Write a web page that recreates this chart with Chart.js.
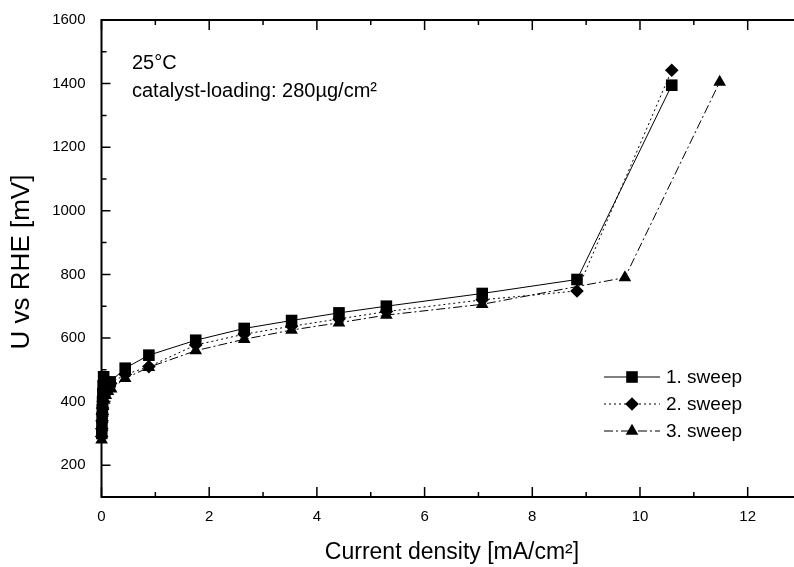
<!DOCTYPE html>
<html>
<head>
<meta charset="utf-8">
<script src="https://cdn.jsdelivr.net/npm/chart.js@4.4.1/dist/chart.umd.min.js"></script>
<style>
html,body{margin:0;padding:0;background:#fff;overflow:hidden;width:794px;height:567px;}
</style>
</head>
<body>
<canvas id="c" width="794" height="567"></canvas>
<script>
// ---- data (current density mA/cm², potential mV vs RHE) ----
const sweep1X = [0.005, 0.008, 0.012, 0.016, 0.02, 0.025, 0.03, 0.04, 0.16, 0.44, 0.88, 1.75, 2.65, 3.53, 4.41, 5.29, 7.07, 8.83, 10.59];
const sweep1Y = [300, 325, 350, 375, 400, 425, 450, 478, 462, 505, 546, 593, 630, 655, 679, 700, 740, 784, 1395];
const sweep2X = [0.003, 0.006, 0.01, 0.015, 0.02, 0.03, 0.05, 0.08, 0.12, 0.17, 0.44, 0.88, 1.75, 2.65, 3.53, 4.41, 5.29, 7.07, 8.83, 10.59];
const sweep2Y = [290, 315, 340, 360, 380, 400, 420, 438, 450, 458, 485, 510, 578, 612, 637, 660, 683, 720, 748, 1442];
const sweep3X = [0.002, 0.005, 0.01, 0.015, 0.02, 0.03, 0.05, 0.08, 0.12, 0.18, 0.44, 0.88, 1.75, 2.65, 3.53, 4.41, 5.29, 7.07, 9.72, 11.48];
const sweep3Y = [280, 300, 320, 345, 365, 385, 405, 420, 432, 440, 473, 508, 560, 596, 625, 648, 672, 706, 790, 1405];
const seriesNames = ['1. sweep', '2. sweep', '3. sweep'];
const xTickValues = [0, 1, 2, 3, 4, 5, 6, 7, 8, 9, 10, 11, 12];
const xTickLabels = [0, 2, 4, 6, 8, 10, 12];
const yTickLabels = [200, 400, 600, 800, 1000, 1200, 1400, 1600];
const annotationLines = ['25°C', 'catalyst-loading: 280µg/cm²'];
const xTitle = 'Current density [mA/cm²]';
const yTitle = 'U vs RHE [mV]';

const toPts = (xs, ys) => xs.map((x, i) => ({x: x, y: ys[i]}));
const FONT = '"Liberation Sans", Arial, sans-serif';

const styles = [
  {pointStyle: 'rect', pointRadius: 8.2, borderDash: []},
  {pointStyle: 'rectRot', pointRadius: 6.8, borderDash: [2, 3]},
  {pointStyle: 'triangle', pointRadius: 7.3, borderDash: [9, 3, 2, 3]}
];
const xs = [sweep1X, sweep2X, sweep3X], ys = [sweep1Y, sweep2Y, sweep3Y];

const datasets = seriesNames.map((n, i) => ({
  label: n,
  data: toPts(xs[i], ys[i]),
  showLine: true,
  clip: false,
  borderColor: '#000',
  backgroundColor: '#000',
  borderWidth: 1,
  borderDash: styles[i].borderDash,
  pointStyle: styles[i].pointStyle,
  pointRadius: styles[i].pointRadius,
  pointHoverRadius: styles[i].pointRadius,
  pointBorderWidth: 0,
  pointBackgroundColor: '#000',
  pointBorderColor: '#000',
  tension: 0
}));

function drawMarker(ctx, style, r, x, y) {
  ctx.beginPath();
  if (style === 'rect') {
    const s = Math.SQRT1_2 * r;
    ctx.rect(x - s, y - s, 2 * s, 2 * s);
  } else if (style === 'rectRot') {
    ctx.moveTo(x - r, y); ctx.lineTo(x, y - r); ctx.lineTo(x + r, y); ctx.lineTo(x, y + r); ctx.closePath();
  } else {
    let a = 0;
    ctx.moveTo(x + Math.sin(a) * r, y - Math.cos(a) * r);
    a += 2 * Math.PI / 3; ctx.lineTo(x + Math.sin(a) * r, y - Math.cos(a) * r);
    a += 2 * Math.PI / 3; ctx.lineTo(x + Math.sin(a) * r, y - Math.cos(a) * r);
    ctx.closePath();
  }
  ctx.fill();
}

const framePlugin = {
  id: 'frame',
  afterDraw(chart) {
    const ctx = chart.ctx, a = chart.chartArea;
    const sx = chart.scales.x, sy = chart.scales.y;
    ctx.save();
    ctx.strokeStyle = '#000';
    ctx.lineWidth = 2;
    ctx.setLineDash([]);
    ctx.beginPath();
    ctx.moveTo(a.left, a.top); ctx.lineTo(chart.width, a.top);
    ctx.moveTo(a.left, a.top - 1); ctx.lineTo(a.left, a.bottom);
    ctx.lineTo(chart.width, a.bottom);
    ctx.stroke();
    ctx.lineWidth = 1.5;
    ctx.beginPath();
    sx.ticks.forEach(t => {
      const px = sx.getPixelForValue(t.value);
      const major = xTickLabels.includes(t.value);
      const len = major ? 10 : 5;
      ctx.moveTo(px, a.bottom); ctx.lineTo(px, a.bottom - len);
      ctx.moveTo(px, a.top); ctx.lineTo(px, a.top + len);
    });
    sy.ticks.forEach(t => {
      const py = sy.getPixelForValue(t.value);
      const major = yTickLabels.includes(t.value);
      const len = major ? 9 : 5;
      ctx.moveTo(a.left, py); ctx.lineTo(a.left + len, py);
    });
    ctx.stroke();

    // annotation
    ctx.fillStyle = '#000';
    ctx.font = '20px ' + FONT;
    ctx.textAlign = 'left';
    ctx.textBaseline = 'middle';
    ctx.fillText(annotationLines[0], 132, 63);
    ctx.fillText(annotationLines[1], 132, 91);

    // legend
    const ly = [377, 404, 431];
    chart.data.datasets.forEach((ds, i) => {
      ctx.strokeStyle = '#000';
      ctx.lineWidth = 1;
      ctx.setLineDash(ds.borderDash);
      ctx.beginPath();
      ctx.moveTo(604, ly[i]); ctx.lineTo(660, ly[i]);
      ctx.stroke();
      ctx.setLineDash([]);
      drawMarker(ctx, ds.pointStyle, ds.pointRadius, 632, ly[i]);
      ctx.font = '19px ' + FONT;
      ctx.fillText(ds.label, 666, ly[i] + 1);
    });

    // axis titles
    ctx.textAlign = 'center';
    ctx.font = '23px ' + FONT;
    ctx.fillText(xTitle, 452, 553);
    ctx.save();
    ctx.translate(22, 262);
    ctx.rotate(-Math.PI / 2);
    ctx.font = '26px ' + FONT;
    ctx.fillText(yTitle, 0, 0);
    ctx.restore();
    ctx.restore();
  }
};

new Chart(document.getElementById('c'), {
  type: 'scatter',
  data: {datasets: datasets},
  options: {
    responsive: false,
    animation: false,
    devicePixelRatio: 1,
    layout: {autoPadding: false, padding: {left: 0, right: 0, top: 20, bottom: 0}},
    plugins: {legend: {display: false}, tooltip: {enabled: false}},
    scales: {
      x: {
        type: 'linear', min: 0, max: 12.86,
        grid: {display: false, drawTicks: false},
        border: {display: false},
        ticks: {
          padding: 11, color: '#000', autoSkip: false, maxRotation: 0,
          font: {family: FONT, size: 15},
          callback: v => xTickLabels.includes(v) ? String(v) : ''
        },
        afterBuildTicks: s => { s.ticks = xTickValues.map(v => ({value: v})); },
        afterFit: s => { s.height = 70; s.paddingLeft = 0; s.paddingRight = 0; }
      },
      y: {
        type: 'linear', min: 100, max: 1600,
        grid: {display: false, drawTicks: false},
        border: {display: false},
        ticks: {
          stepSize: 100, padding: 16, color: '#000',
          font: {family: FONT, size: 15},
          callback: v => yTickLabels.includes(v) ? String(v) : ''
        },
        afterFit: s => { s.width = 101.5; s.paddingTop = 0; s.paddingBottom = 0; }
      }
    }
  },
  plugins: [framePlugin]
});
</script>
</body>
</html>
